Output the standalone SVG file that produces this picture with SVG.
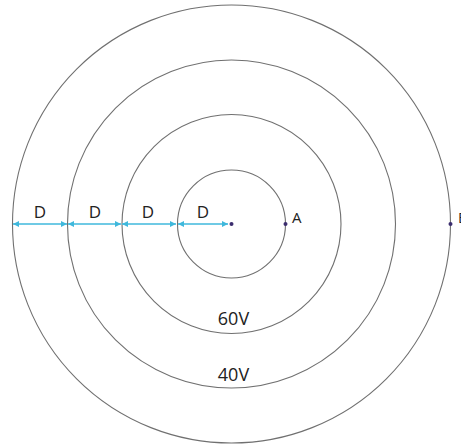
<svg xmlns="http://www.w3.org/2000/svg" width="461" height="446" viewBox="0 0 461 446">
<style>
.c{fill:none;stroke:#707070;stroke-width:1.1}
.a{stroke:#3fb8dc;stroke-width:1.4;marker-start:url(#ah);marker-end:url(#ah)}
.t{font-family:"Open Sans","Noto Sans",sans-serif;fill:#222}
.p{fill:#3b2d6e}
</style>
<defs>
<marker id="ah" viewBox="0 0 10 10" refX="10" refY="5" markerWidth="6" markerHeight="6" orient="auto-start-reverse" markerUnits="userSpaceOnUse">
<path d="M0,0 L10,5 L0,10 z" fill="#3fb8dc"/>
</marker>
</defs>
<rect width="461" height="446" fill="#fff"/>
<g id="circles">
<circle id="c1" class="c" cx="231.5" cy="224" r="54"/>
<circle id="c2" class="c" cx="231.5" cy="224" r="109.5"/>
<circle id="c3" class="c" cx="231.5" cy="224" r="164"/>
<circle id="c4" class="c" cx="231.5" cy="224" r="219"/>
</g>
<g id="connectors">
<line class="a" x1="13" y1="224" x2="67" y2="224"/>
<line class="a" x1="68" y1="224" x2="121" y2="224"/>
<line class="a" x1="122" y1="224" x2="176" y2="224"/>
<line class="a" x1="178" y1="224" x2="228" y2="224"/>
</g>
<g id="points">
<circle id="O" class="p" cx="231.5" cy="224" r="2"/>
<circle id="A" class="p" cx="285.5" cy="224" r="2"/>
<circle id="B" class="p" cx="450.5" cy="224" r="2"/>
</g>
<g id="labels" class="t">
<text x="40" y="218" font-size="17" text-anchor="middle">D</text>
<text x="95" y="218" font-size="17" text-anchor="middle">D</text>
<text x="148" y="218" font-size="17" text-anchor="middle">D</text>
<text x="203" y="218" font-size="17" text-anchor="middle">D</text>
<text x="292" y="223" font-size="15">A</text>
<text x="458" y="223" font-size="15">B</text>
<text x="233.5" y="325" font-size="18" text-anchor="middle">60V</text>
<text x="233.5" y="381" font-size="18" text-anchor="middle">40V</text>
</g>
</svg>
